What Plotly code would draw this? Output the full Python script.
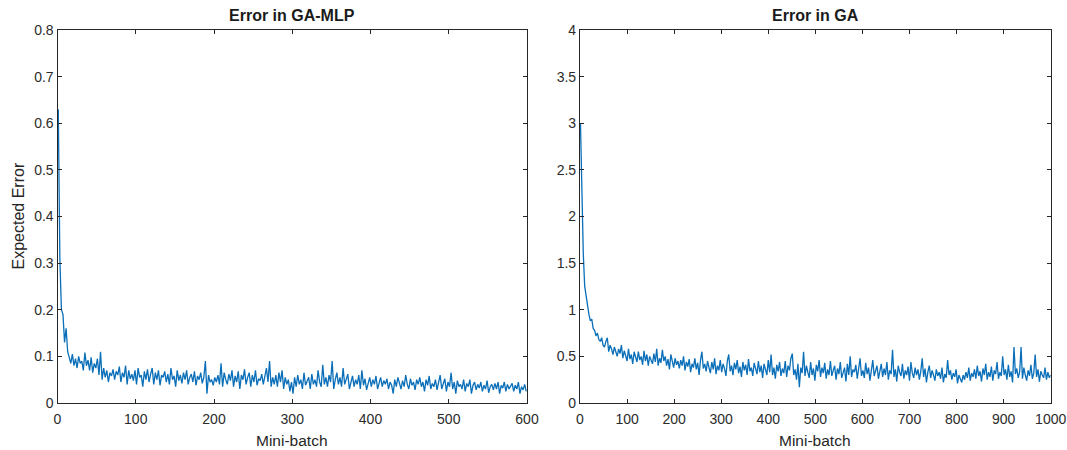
import plotly.graph_objects as go

# ---- data ----
mlp_batch = list(range(1, 600, 2))
mlp_error = [
    0.63, 0.31, 0.20, 0.19, 0.13, 0.16, 0.11, 0.10, 0.085, 0.105,
    0.08, 0.095, 0.075, 0.10, 0.085, 0.09, 0.07, 0.108, 0.08, 0.092,
    0.07, 0.098, 0.065, 0.085, 0.075, 0.095, 0.06, 0.11, 0.05, 0.075,
    0.055, 0.07, 0.045, 0.065, 0.058, 0.072, 0.05, 0.068, 0.06, 0.078,
    0.045, 0.065, 0.055, 0.08, 0.04, 0.07, 0.052, 0.062, 0.048, 0.07,
    0.04, 0.075, 0.055, 0.06, 0.035, 0.068, 0.05, 0.072, 0.045, 0.062,
    0.075, 0.04, 0.065, 0.05, 0.07, 0.038, 0.06, 0.055, 0.068, 0.045,
    0.062, 0.04, 0.075, 0.05, 0.058, 0.035, 0.07, 0.048, 0.06, 0.042,
    0.065, 0.05, 0.07, 0.04, 0.055, 0.062, 0.045, 0.068, 0.038, 0.058,
    0.05, 0.065, 0.042, 0.055, 0.09, 0.02, 0.06, 0.045, 0.05, 0.038,
    0.055, 0.045, 0.06, 0.04, 0.085, 0.035, 0.065, 0.05, 0.04, 0.062,
    0.048, 0.07, 0.035, 0.058, 0.045, 0.068, 0.03, 0.06, 0.05, 0.072,
    0.04, 0.055, 0.065, 0.035, 0.06, 0.045, 0.07, 0.038, 0.052, 0.048,
    0.062, 0.04, 0.058, 0.075, 0.045, 0.09, 0.035, 0.055, 0.04, 0.06,
    0.035, 0.065, 0.045, 0.07, 0.03, 0.055, 0.04, 0.05, 0.025, 0.045,
    0.02, 0.055, 0.035, 0.06, 0.04, 0.05, 0.03, 0.065, 0.038, 0.048,
    0.055, 0.03, 0.062, 0.04, 0.05, 0.035, 0.07, 0.045, 0.035, 0.082,
    0.04, 0.055, 0.035, 0.06, 0.045, 0.09, 0.03, 0.05, 0.065, 0.04,
    0.055, 0.035, 0.075, 0.04, 0.05, 0.062, 0.03, 0.048, 0.058, 0.035,
    0.05, 0.04, 0.06, 0.03, 0.07, 0.038, 0.052, 0.028, 0.045, 0.055,
    0.035, 0.05, 0.04, 0.058, 0.03, 0.045, 0.055, 0.035, 0.048, 0.04,
    0.052, 0.03, 0.045, 0.038, 0.02, 0.05, 0.035, 0.055, 0.04, 0.03,
    0.048, 0.035, 0.06, 0.04, 0.03, 0.052, 0.038, 0.045, 0.028, 0.05,
    0.04, 0.055, 0.035, 0.045, 0.025, 0.05, 0.038, 0.058, 0.03, 0.042,
    0.035, 0.05, 0.028, 0.045, 0.06, 0.03, 0.04, 0.052, 0.025, 0.045,
    0.035, 0.065, 0.03, 0.045, 0.02, 0.048, 0.035, 0.04, 0.03, 0.05,
    0.025, 0.042, 0.035, 0.05, 0.02, 0.038, 0.045, 0.028, 0.04, 0.032,
    0.045, 0.025, 0.038, 0.03, 0.048, 0.022, 0.035, 0.04, 0.028, 0.042,
    0.03, 0.045, 0.02, 0.038, 0.032, 0.045, 0.025, 0.04, 0.03, 0.035,
    0.042, 0.025, 0.038, 0.03, 0.045, 0.02, 0.035, 0.028, 0.04, 0.025,
]

ga_batch = list(range(1, 1001, 3))
ga_error = [
    3.0, 2.2, 1.6, 1.25, 1.12, 1.05, 0.95, 0.88, 0.9, 0.8,
    0.78, 0.72, 0.75, 0.68, 0.66, 0.7, 0.62, 0.6, 0.66, 0.7,
    0.55, 0.62, 0.58, 0.52, 0.6, 0.56, 0.5, 0.58, 0.53, 0.62,
    0.48, 0.56, 0.5, 0.45, 0.58, 0.47, 0.52, 0.42, 0.55, 0.49,
    0.44, 0.55, 0.46, 0.5, 0.41, 0.56, 0.45, 0.52, 0.4, 0.5,
    0.46, 0.42, 0.53, 0.44, 0.58, 0.4, 0.48, 0.43, 0.57, 0.45,
    0.5, 0.4, 0.47, 0.36, 0.52, 0.43, 0.38, 0.48, 0.41, 0.45,
    0.37, 0.46, 0.4, 0.5, 0.35, 0.44, 0.39, 0.47, 0.33, 0.42,
    0.38, 0.48, 0.36, 0.43, 0.3, 0.46, 0.55, 0.37, 0.42, 0.34,
    0.45, 0.38, 0.32, 0.44, 0.36, 0.48, 0.31, 0.4, 0.35, 0.46,
    0.33, 0.42, 0.37, 0.29, 0.45, 0.52, 0.34, 0.4, 0.3, 0.43,
    0.36, 0.46, 0.32, 0.39, 0.28, 0.44, 0.35, 0.41, 0.3, 0.47,
    0.34, 0.38, 0.29, 0.43, 0.36, 0.31, 0.45, 0.33, 0.4, 0.27,
    0.42, 0.35, 0.3, 0.46, 0.33, 0.52, 0.3, 0.38, 0.26, 0.41,
    0.34, 0.44, 0.29, 0.37, 0.32, 0.45, 0.28, 0.4, 0.35, 0.48,
    0.53, 0.3, 0.36, 0.25, 0.42, 0.17, 0.38, 0.32, 0.55, 0.29,
    0.4, 0.33, 0.27, 0.44, 0.3, 0.37, 0.24, 0.41, 0.34, 0.46,
    0.28, 0.38, 0.32, 0.43, 0.26, 0.36, 0.3, 0.45, 0.29, 0.35,
    0.4, 0.25, 0.37, 0.31, 0.44, 0.27, 0.34, 0.38, 0.23, 0.42,
    0.3, 0.5, 0.28, 0.36, 0.33, 0.41, 0.26, 0.37, 0.48, 0.29,
    0.35, 0.27, 0.43, 0.31, 0.38, 0.24, 0.36, 0.46, 0.29, 0.34,
    0.4, 0.26, 0.33, 0.42, 0.28, 0.37, 0.3, 0.44, 0.25, 0.35,
    0.31, 0.57, 0.28, 0.36, 0.23, 0.4, 0.33, 0.29, 0.42, 0.26,
    0.35, 0.3, 0.39, 0.24, 0.44, 0.32, 0.27, 0.38, 0.3, 0.36,
    0.25, 0.34, 0.48, 0.28, 0.37, 0.22, 0.33, 0.4, 0.27, 0.35,
    0.3, 0.24, 0.36, 0.29, 0.33, 0.26, 0.38, 0.22, 0.31, 0.27,
    0.46, 0.3, 0.35, 0.25, 0.32, 0.28, 0.36, 0.21, 0.3, 0.26,
    0.22, 0.3, 0.25, 0.33, 0.27, 0.38, 0.24, 0.32, 0.28, 0.36,
    0.26, 0.4, 0.29, 0.34, 0.23, 0.37, 0.3, 0.42, 0.25, 0.33,
    0.28, 0.39, 0.24, 0.35, 0.31, 0.44, 0.26, 0.33, 0.29, 0.5,
    0.3, 0.36, 0.25, 0.41, 0.28, 0.34, 0.22, 0.6, 0.31, 0.37,
    0.27, 0.33, 0.6, 0.26, 0.38, 0.3, 0.24, 0.35, 0.29, 0.41,
    0.26, 0.32, 0.52, 0.28, 0.36, 0.23, 0.34, 0.3, 0.27, 0.38,
    0.25, 0.33, 0.27, 0.3,
]

titles = ["Error in GA-MLP", "Error in GA"]
x_label = "Mini-batch"
y_label = "Expected Error"
mlp_yticks = [0, 0.1, 0.2, 0.3, 0.4, 0.5, 0.6, 0.7, 0.8]
ga_yticks = [0, 0.5, 1, 1.5, 2, 2.5, 3, 3.5, 4]
mlp_xticks = list(range(0, 601, 100))
ga_xticks = list(range(0, 1001, 100))

# ---- figure ----
LINE = "#0a6fb8"
FONT = "Liberation Sans, Arial, Helvetica, sans-serif"
W, H = 1067, 450


def px(x):
    return x / W


def py(y):
    return 1 - y / H


fig = go.Figure()
fig.add_trace(go.Scatter(x=mlp_batch, y=mlp_error, mode="lines",
                         line=dict(color=LINE, width=1.3),
                         xaxis="x", yaxis="y", showlegend=False))
fig.add_trace(go.Scatter(x=ga_batch, y=ga_error, mode="lines",
                         line=dict(color=LINE, width=1.3),
                         xaxis="x2", yaxis="y2", showlegend=False))

L1, R1 = px(57.5), px(527)
L2, R2 = px(580), px(1050.7)
B, T = py(403), py(30)

axis_common = dict(showgrid=False, zeroline=False, showline=True,
                   linecolor="#262626", linewidth=1.2, mirror="ticks",
                   ticks="inside", ticklen=4, tickcolor="#262626",
                   automargin=False, ticklabeloverflow="allow",
                   tickfont=dict(family=FONT, size=14, color="#2b2b2b"))

fig.update_layout(
    template="none",
    width=W, height=H,
    margin=dict(l=0, r=0, t=0, b=0, autoexpand=False),
    paper_bgcolor="white", plot_bgcolor="white",
    font=dict(family=FONT, color="#262626"),
    xaxis=dict(domain=[L1, R1], range=[0, 600], tickvals=mlp_xticks,
               anchor="y", ticklabelstandoff=3, **axis_common),
    yaxis=dict(domain=[B, T], range=[0, 0.8], tickvals=mlp_yticks,
               anchor="x", **axis_common),
    xaxis2=dict(domain=[L2, R2], range=[0, 1000], tickvals=ga_xticks,
                anchor="y2", ticklabelstandoff=3, **axis_common),
    yaxis2=dict(domain=[B, T], range=[0, 4], tickvals=ga_yticks,
                anchor="x2", **axis_common),
)

for title, (l, r) in zip(titles, [(L1, R1), (L2, R2)]):
    cx = (l + r) / 2
    fig.add_annotation(text="<b>" + title + "</b>", x=cx, y=py(15.5),
                       xref="paper", yref="paper", showarrow=False,
                       font=dict(family=FONT, size=16, color="#1a1a1a"),
                       xanchor="center", yanchor="middle")
    fig.add_annotation(text=x_label, x=cx, y=py(440),
                       xref="paper", yref="paper", showarrow=False,
                       font=dict(family=FONT, size=15.5, color="#262626"),
                       xanchor="center", yanchor="middle")

fig.add_annotation(text=y_label, x=px(18), y=(B + T) / 2, textangle=-90,
                   xref="paper", yref="paper", showarrow=False,
                   font=dict(family=FONT, size=16, color="#262626"),
                   xanchor="center", yanchor="middle")

fig.write_html(
    "out.html",
    config={"displayModeBar": False},
    post_script="document.body.style.margin='0';"
                "document.body.style.overflow='hidden';"
                "document.documentElement.style.overflow='hidden';",
)
